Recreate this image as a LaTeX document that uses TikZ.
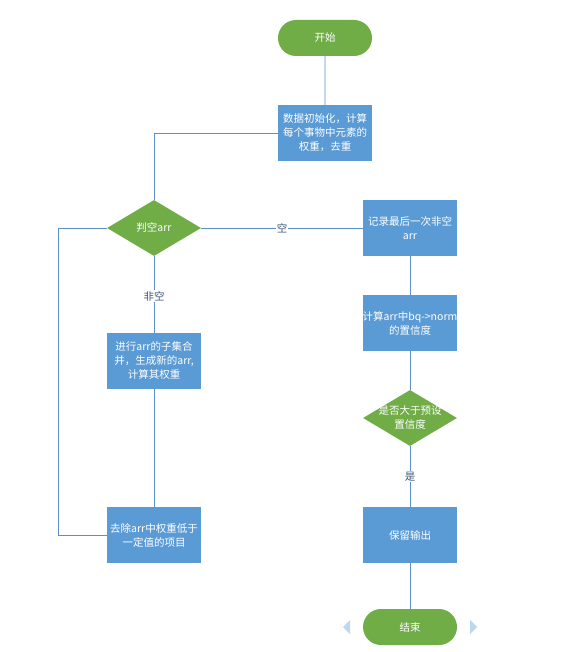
\documentclass[tikz,border=0pt]{standalone}
\usepackage{fontspec}
\setmainfont{Noto Sans CJK SC}
\usetikzlibrary{shapes.geometric,shapes.misc}
\definecolor{fgreen}{HTML}{70AD47}
\definecolor{fblue}{HTML}{5B9BD5}
\definecolor{fline}{HTML}{5B8FC9}
\definecolor{flabel}{HTML}{3E5675}
\definecolor{ftri}{HTML}{BDD7EE}
\tikzset{
  every node/.style={font=\fontsize{10.5}{14}\selectfont},
  term/.style={rounded rectangle, fill=fgreen, text=white, minimum width=94pt, minimum height=36pt, inner sep=0pt},
  proc/.style={rectangle, fill=fblue, text=white, minimum width=94pt, minimum height=56pt, align=center, inner sep=0pt},
  dec/.style={diamond, fill=fgreen, text=white, minimum width=94pt, minimum height=56pt, align=center, inner sep=0pt, aspect=1.68},
  conn/.style={draw=fline, line width=0.9pt},
  lab/.style={fill=white, text=flabel, inner sep=1pt},
}
\begin{document}
\begin{tikzpicture}[x=1pt,y=-1pt]
\useasboundingbox (0,0) rectangle (574,652);
\node[term] (start) at (325,38) {开始};
\node[proc] (init) at (325,133) {数据初始化，计算\\每个事物中元素的\\权重，去重};
\node[dec] (judge) at (154,228) {判空arr};
\node[proc] (merge) at (154,361) {进行arr的子集合\\并，生成新的arr,\\计算其权重};
\node[proc] (remove) at (154,535) {去除arr中权重低于\\一定值的项目};
\node[proc] (record) at (410,228) {记录最后一次非空\\arr};
\node[proc] (calc) at (410,323) {计算arr中bq->norm\\的置信度};
\node[dec, inner sep=-6pt] (cmp) at (410,418) {是否大于预设\\置信度};
\node[proc] (keep) at (410,535) {保留输出};
\node[term] (end) at (410,627) {结束};
\coordinate (c1) at (154,133);
\coordinate (c2) at (58,228);
\coordinate (c3) at (58,535);
\draw[conn] (start) -- (init);
\draw[conn] (init.west) -- (c1) -- (judge.north);
\draw[conn] (judge.east) -- node[lab] {空} (record.west);
\draw[conn] (judge.south) -- node[lab, pos=0.52] {非空} (merge.north);
\draw[conn] (merge) -- (remove);
\draw[conn] (remove.west) -- (c3) -- (c2) -- (judge.west);
\draw[conn] (record) -- (calc);
\draw[conn] (calc) -- (cmp);
\draw[conn] (cmp.south) -- node[lab, pos=0.5] {是} (keep.north);
\draw[conn] (keep) -- (end);
\fill[ftri] (343,627) -- (350,620) -- (350,634) -- cycle;
\fill[ftri] (477,627) -- (470,620) -- (470,634) -- cycle;
\end{tikzpicture}
\end{document}
